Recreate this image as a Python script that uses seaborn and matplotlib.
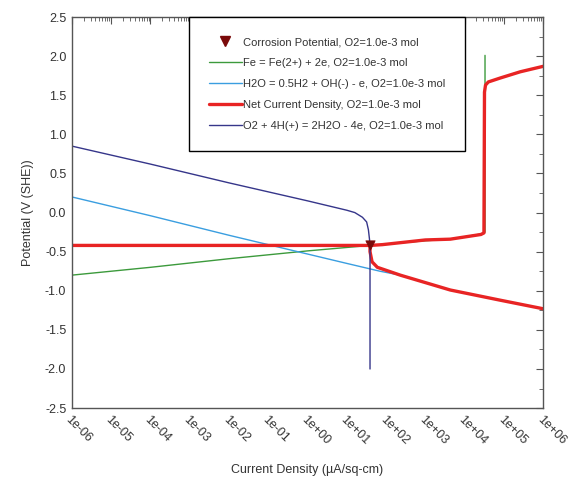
import numpy as np
import pandas as pd
import matplotlib
matplotlib.use("Agg")
import matplotlib.pyplot as plt
from matplotlib.ticker import FixedLocator, LogLocator, MultipleLocator, NullFormatter
from matplotlib.lines import Line2D
import seaborn as sns

sns.set_style("white")
plt.rcParams['font.family'] = ['Liberation Sans', 'DejaVu Sans']
plt.rcParams['axes.unicode_minus'] = False

# current density (uA/sq-cm) and potential (V SHE)
fe_i = [1e-6, 1e-4, 1e-2, 1e0, 3.9e1, 1e3, 4.3e3, 2.9e4, 3.3e4, 3.3e4]
fe_E = [-0.80, -0.70, -0.59, -0.49, -0.42, -0.36, -0.34, -0.27, -0.25, 2.01]

h2o_i = [1e-6, 1e-4, 1e-2, 1e0, 1e1, 7e1, 2.3e2, 4.3e3, 8e4, 1e6]
h2o_E = [0.20, -0.04, -0.29, -0.53, -0.65, -0.75, -0.80, -0.99, -1.12, -1.23]

o2_i = [1e-6, 1e-4, 1e-2, 1e0, 1e1, 1.6e1, 2.5e1, 3.2e1, 3.55e1, 3.8e1, 3.9e1, 3.9e1]
o2_E = [0.85, 0.62, 0.38, 0.15, 0.03, 0.00, -0.06, -0.12, -0.22, -0.35, -0.50, -2.0]

# net current: cathodic branch + flat part, then anodic branch
net_cath_i = [1e6, 8e4, 4.3e3, 2.3e2, 6e1, 4.4e1, 3.9e1, 3.9e1, 1e-6]
net_cath_E = [-1.23, -1.12, -0.99, -0.80, -0.70, -0.63, -0.50, -0.42, -0.42]
net_an_i = [3.9e1, 8e1, 1e3, 4.3e3, 2.6e4, 3.1e4, 3.2e4, 3.4e4, 4e4, 8e4, 2.6e5, 1e6]
net_an_E = [-0.42, -0.41, -0.35, -0.34, -0.28, -0.26, 1.54, 1.63, 1.67, 1.72, 1.80, 1.87]

corr_i = [3.9e1]
corr_E = [-0.42]

tick_vals = [1e-6, 1e-5, 1e-4, 1e-3, 1e-2, 1e-1, 1e0, 1e1, 1e2, 1e3, 1e4, 1e5, 1e6]
tick_labels = ['1e-06', '1e-05', '1e-04', '1e-03', '1e-02', '1e-01', '1e+00',
               '1e+01', '1e+02', '1e+03', '1e+04', '1e+05', '1e+06']

suffix = ', O2=1.0e-3 mol'
lbl_corr = 'Corrosion Potential' + suffix
lbl_fe = 'Fe = Fe(2+) + 2e' + suffix
lbl_h2o = 'H2O = 0.5H2 + OH(-) - e' + suffix
lbl_net = 'Net Current Density' + suffix
lbl_o2 = 'O2 + 4H(+) = 2H2O - 4e' + suffix

c_fe = '#3c9a3c'
c_h2o = '#3a9ee0'
c_net = '#e82424'
c_o2 = '#36368a'
c_corr = '#7a0a0a'

fig = plt.figure(figsize=(5.7, 4.87), dpi=100)
ax = fig.add_axes([0.126, 0.162, 0.827, 0.803])

# estimator=None so repeated x values (vertical parts) are kept as drawn
kw = dict(sort=False, estimator=None, ax=ax)
sns.lineplot(x=fe_i, y=fe_E, color=c_fe, lw=1.0, **kw)
sns.lineplot(x=h2o_i, y=h2o_E, color=c_h2o, lw=1.0, **kw)
sns.lineplot(x=net_cath_i, y=net_cath_E, color=c_net, lw=2.4, **kw)
sns.lineplot(x=net_an_i, y=net_an_E, color=c_net, lw=2.4, **kw)
sns.lineplot(x=o2_i, y=o2_E, color=c_o2, lw=1.0, **kw)
sns.scatterplot(x=corr_i, y=corr_E, marker='v', s=45, color=c_corr,
                edgecolor=c_corr, zorder=5, ax=ax)

ax.set_xscale('log')
ax.set_xlim(1e-6, 1e6)
ax.set_ylim(-2.5, 2.5)

ax.xaxis.set_major_locator(FixedLocator(tick_vals))
ax.xaxis.set_minor_locator(LogLocator(base=10, subs=np.arange(2, 10), numticks=100))
ax.xaxis.set_minor_formatter(NullFormatter())
ax.set_xticklabels(tick_labels, rotation=-45, ha='left', va='top',
                   rotation_mode='anchor')
ax.yaxis.set_major_locator(MultipleLocator(0.5))
ax.yaxis.set_minor_locator(MultipleLocator(0.25))
ax.yaxis.set_major_formatter(matplotlib.ticker.FormatStrFormatter('%.1f'))

spine_c = '#555555'
for s in ax.spines.values():
    s.set_color(spine_c)
    s.set_linewidth(1.0)
ax.tick_params(which='both', direction='in', top=True, right=True,
               color=spine_c, labelsize=9, labelcolor='#333333')
ax.tick_params(which='major', length=5, pad=4)
ax.tick_params(which='minor', length=3)

ax.set_xlabel('Current Density (\u00b5A/sq-cm)', fontsize=9, color='#333333', labelpad=12)
ax.set_ylabel('Potential (V (SHE))', fontsize=9, color='#333333', labelpad=8)

handles = [
    Line2D([], [], ls='none', marker='v', color=c_corr, markersize=7),
    Line2D([], [], color=c_fe, lw=1.0),
    Line2D([], [], color=c_h2o, lw=1.0),
    Line2D([], [], color=c_net, lw=2.4),
    Line2D([], [], color=c_o2, lw=1.0),
]
labels = [lbl_corr, lbl_fe, lbl_h2o, lbl_net, lbl_o2]
leg = ax.legend(handles, labels, loc='upper left', bbox_to_anchor=(0.248, 1.0),
                borderaxespad=0, fontsize=8, handlelength=3.0, handletextpad=0.1,
                labelspacing=0.98, borderpad=1.8, fancybox=False, frameon=True,
                framealpha=1)
leg.get_frame().set_edgecolor('black')
leg.get_frame().set_linewidth(1.0)
for t in leg.get_texts():
    t.set_color('#333333')

fig.savefig('out.png', dpi=100)
